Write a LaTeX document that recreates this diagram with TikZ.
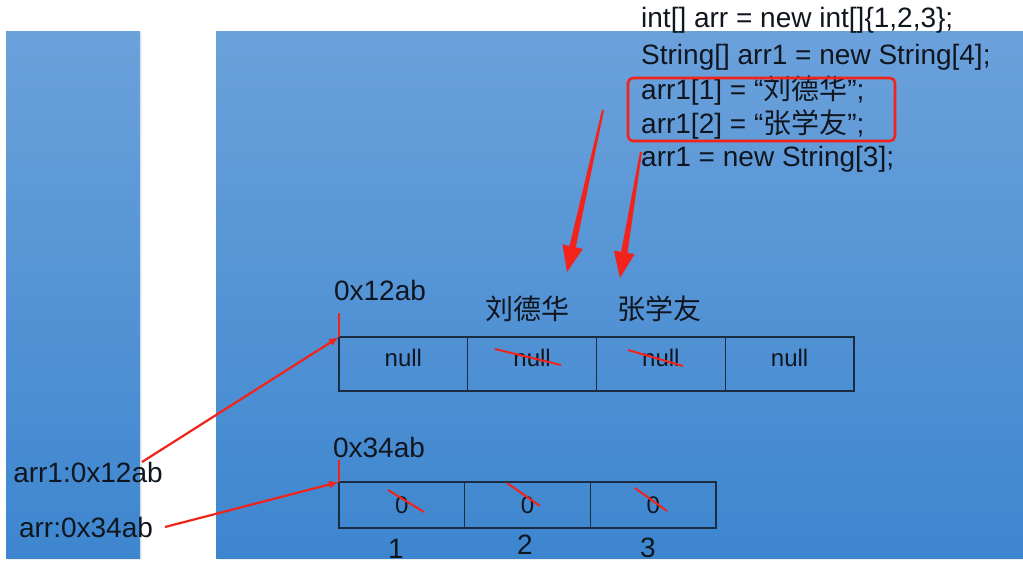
\documentclass[tikz,border=0pt]{standalone}
\usepackage{fontspec}
\setmainfont{Liberation Sans}
\newfontfamily\cjk{Noto Sans CJK SC}
\usetikzlibrary{calc,arrows.meta}
\definecolor{panelTop}{HTML}{6BA1DB}
\definecolor{panelBot}{HTML}{3D86CF}
\definecolor{ink}{HTML}{10161F}
\definecolor{cellline}{HTML}{1B2B40}
\definecolor{redmark}{HTML}{F2231B}
\begin{document}
\begin{tikzpicture}[x=1pt,y=-1pt,
  txt/.style={text=ink, inner sep=0pt, font=\fontsize{28}{30}\selectfont},
  code/.style={txt, anchor=west},
  cellA/.style={draw=cellline, line width=1.2pt, minimum width=128.75pt, minimum height=54pt,
    inner sep=0pt, outer sep=0pt, anchor=north west, text=ink, text depth=12pt, font=\fontsize{24}{24}\selectfont},
  cellB/.style={draw=cellline, line width=1.2pt, minimum width=125.67pt, minimum height=46pt,
    inner sep=0pt, outer sep=0pt, anchor=north west, text=ink, font=\fontsize{24}{24}\selectfont},
  strike/.style={draw=redmark, line width=2pt},
  thinarrow/.style={draw=redmark, line width=2.2pt, -{Latex[length=10pt,width=8pt]}},
  tick/.style={draw=redmark, line width=2pt}]
\useasboundingbox (0,0) rectangle (1023,564);
\fill[white] (0,0) rectangle (1023,564);
% panels with faint shadow
\fill[black!7] (7.5,33.5) rectangle (141.5,559.5);
\fill[black!7] (217.5,33.5) rectangle (1023,559.5);
\shade[top color=panelTop, bottom color=panelBot] (6,32) rectangle (140,558);
\shade[top color=panelTop, bottom color=panelBot] (216,32) rectangle (1023,558);

% code
\node[code] (l1) at (641,20) {int[] arr = new int[]\{1,2,3\};};
\node[code] (l2) at (641,57) {String[] arr1 = new String[4];};
\node[code] (l3) at (641,91) {arr1[1] = “{\cjk 刘德华}”;};
\node[code] (l4) at (641,125) {arr1[2] = “{\cjk 张学友}”;};
\node[code] (l5) at (641,159) {arr1 = new String[3];};
\draw[draw=redmark, line width=2.6pt, rounded corners=5pt] (628,78) rectangle (895,141);

% array 1
\node[cellA] (a1) at (339,337) {null};
\node[cellA] (a2) at (a1.north east) {null};
\node[cellA] (a3) at (a2.north east) {null};
\node[cellA] (a4) at (a3.north east) {null};
\node[txt] (addr1) at (380,290) {0x12ab};
\node[txt] (n1) at (527,309) {\cjk 刘德华};
\node[txt] (n2) at (659,309) {\cjk 张学友};
\draw[strike] (495,349) -- (561,365);
\draw[strike] (628,350) -- (683,366);
\draw[tick] (a1.north west) -- ++(0,-24);

% array 2
\node[cellB] (b1) at (339,482) {0};
\node[cellB] (b2) at (b1.north east) {0};
\node[cellB] (b3) at (b2.north east) {0};
\node[txt] (addr2) at (379,447) {0x34ab};
\node[txt] (i1) at (396,549) {1};
\node[txt] (i2) at (525,545) {2};
\node[txt] (i3) at (648,548) {3};
\draw[strike] (388,490) -- (424,512);
\draw[strike] (507,483) -- (540,506);
\draw[strike] (635,488) -- (667,511);
\draw[tick] (b1.north west) -- ++(0,-22);

% stack labels
\node[txt] (s1) at (88,472) {arr1:0x12ab};
\node[txt] (s2) at (86,527) {arr:0x34ab};
\coordinate (p1) at (142,462);
\coordinate (p2) at (165,527);
\draw[thinarrow] (p1) -- (a1.north west);
\draw[thinarrow] (p2) -- (b1.north west);

% big tapered arrows
\coordinate (q1s) at (603,110);
\coordinate (q1t) at (567,272);
\coordinate (q2s) at (641,152);
\coordinate (q2t) at (620,278);
\foreach \s/\t in {q1s/q1t, q2s/q2t}{
  \coordinate (hb) at ($(\t)!26pt!(\s)$);
  \fill[redmark] ($(\s)!1pt!90:(\t)$) -- ($(hb)!3.2pt!90:(\t)$) -- ($(hb)!10.5pt!90:(\t)$) -- (\t)
     -- ($(hb)!10.5pt!-90:(\t)$) -- ($(hb)!3.2pt!-90:(\t)$) -- ($(\s)!1pt!-90:(\t)$) -- cycle;
}
\end{tikzpicture}
\end{document}
